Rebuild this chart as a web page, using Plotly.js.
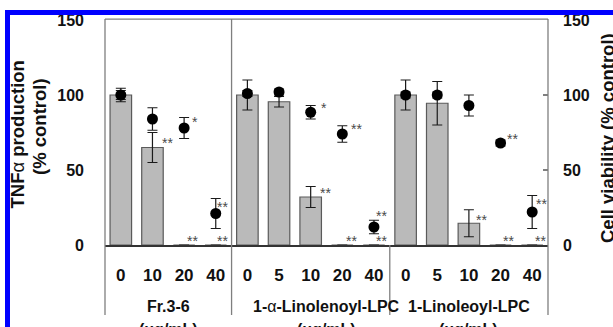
<!DOCTYPE html>
<html>
<head>
<meta charset="utf-8">
<script src="https://cdn.plot.ly/plotly-3.0.1.min.js"></script>
<style>
  html, body { margin: 0; padding: 0; background: #fff; }
  #wrap { position: relative; width: 613px; height: 327px; overflow: hidden; }
  #chart { position: absolute; left: 0; top: 0; width: 613px; height: 327px; }
  .frame { position: absolute; background: #0000ff; }
</style>
</head>
<body>
<div id="wrap">
  <div id="chart"></div>
  <div class="frame" style="left:5px; top:10px; width:608px; height:5px;"></div>
  <div class="frame" style="left:5px; top:10px; width:5px; height:317px;"></div>
</div>
<script>
// ---- data ----
const doseLabels = ['0','10','20','40','0','5','10','20','40','0','5','10','20','40'];
const groupNames = ['Fr.3-6', '1-<span style="font-weight:normal">α</span>-Linolenoyl-LPC', '1-Linoleoyl-LPC'];
const groupUnit = '(μg/mL)';
const groupCenters = [1.5, 6.5, 11];

// TNFα production (% control) – bars, left axis
const tnfValues = [100, 65, 0, 0, 100, 95.5, 32, 0, 0, 100, 94.5, 14.5, 0, 0];
const tnfErrors = [3, 10, null, null, 10, 3.5, 7, null, null, 10, 14.5, 9, null, null];

// Cell viability (% control) – dots, right axis
const viabilityValues = [100, 84, 78, 21, 101, 102, 88.5, 74, 12, 100, 100, 93, 68, 22];
const viabilityErrors = [4.5, 7.5, 7, 10, 2, 2, 4.5, 5.5, 4.5, 2, 2, 7, 2, 11];

// significance marks: category index, value level, label
const sigIndex = [1, 2, 3, 2, 3,  6, 7, 6, 8, 7, 8,  11, 12, 13, 12, 13];
const sigLevel = [69.3, 83.3, 27, 4.3, 4.3,  92.7, 78.9, 36, 20.7, 3.8, 3.8,  17.8, 72.2, 28.9, 4, 4];
const sigText  = ['**', '*', '**', '**', '**',  '*', '**', '**', '**', '**', '**',  '**', '**', '**', '**', '**'];
const sigOffset = [0.49, 0.35, 0.22, 0.25, 0.22,  0.42, 0.45, 0.48, 0.25, 0.3, 0.25,  0.4, 0.39, 0.3, 0.25, 0.25];

const idx = doseLabels.map((_, i) => i);
const FONT = 'Liberation Sans, Arial, Helvetica, sans-serif';

const bars = {
  type: 'bar',
  x: idx,
  y: tnfValues,
  width: 0.68,
  marker: { color: '#bababa', line: { color: '#5a5a5a', width: 1.2 } },
  error_y: { type: 'data', array: tnfErrors, visible: true, color: '#1a1a1a', thickness: 1.2, width: 5 },
  yaxis: 'y',
  hoverinfo: 'skip'
};

const dots = {
  type: 'scatter',
  mode: 'markers',
  x: idx,
  y: viabilityValues,
  marker: { color: '#000', size: 11 },
  error_y: { type: 'data', array: viabilityErrors, visible: true, color: '#1a1a1a', thickness: 1.2, width: 5 },
  yaxis: 'y2',
  hoverinfo: 'skip'
};

const annotations = [];
for (let i = 0; i < sigIndex.length; i++) {
  annotations.push({
    x: sigIndex[i] + sigOffset[i], y: sigLevel[i], xref: 'x', yref: 'y',
    text: sigText[i], showarrow: false, xanchor: 'center', yanchor: 'middle', yshift: -2,
    font: { family: FONT, size: 14, color: '#4a4a4a' }
  });
}
for (let g = 0; g < groupNames.length; g++) {
  annotations.push({
    x: groupCenters[g], y: (245 - 306) / 225, xref: 'x', yref: 'paper',
    text: groupNames[g], showarrow: false, xanchor: 'center', yanchor: 'middle',
    font: { family: FONT, size: 16, color: '#111', weight: 'bold' }
  });
  annotations.push({
    x: groupCenters[g], y: (245 - 329) / 225, xref: 'x', yref: 'paper',
    text: groupUnit, showarrow: false, xanchor: 'center', yanchor: 'middle',
    font: { family: FONT, size: 16, color: '#111', weight: 'bold' }
  });
}
// axis titles
const px = v => (v - 105) / 443;
const py = v => (245 - v) / 225;
annotations.push({
  x: px(16.5), y: py(135), xref: 'paper', yref: 'paper', textangle: -90,
  text: 'TNF<span style="font-weight:normal">α</span> production', showarrow: false,
  xanchor: 'center', yanchor: 'middle',
  font: { family: FONT, size: 18.5, color: '#111', weight: 'bold' }
});
annotations.push({
  x: px(40), y: py(127), xref: 'paper', yref: 'paper', textangle: -90,
  text: '(% control)', showarrow: false, xanchor: 'center', yanchor: 'middle',
  font: { family: FONT, size: 18.5, color: '#111', weight: 'bold' }
});
annotations.push({
  x: px(607), y: py(138), xref: 'paper', yref: 'paper', textangle: -90,
  text: 'Cell viability (% control)', showarrow: false, xanchor: 'center', yanchor: 'middle',
  font: { family: FONT, size: 18.5, color: '#111', weight: 'bold' }
});

const frameColor = '#7f7f7f';
const shapes = [
  { type: 'line', xref: 'paper', yref: 'paper', x0: 0, x1: 1, y0: 1.004, y1: 1.004, line: { color: frameColor, width: 1.3 } },
  { type: 'line', xref: 'paper', yref: 'paper', x0: 0, x1: 0, y0: 1.004, y1: py(315), line: { color: frameColor, width: 1.3 } },
  { type: 'line', xref: 'paper', yref: 'paper', x0: 1, x1: 1, y0: 1.004, y1: py(315), line: { color: frameColor, width: 1.3 } },
  { type: 'line', xref: 'x', yref: 'paper', x0: 3.5, x1: 3.5, y0: 1.004, y1: py(315), line: { color: frameColor, width: 1.3 } },
  { type: 'line', xref: 'x', yref: 'paper', x0: 8.5, x1: 8.5, y0: 0, y1: py(315), line: { color: frameColor, width: 1.3 } }
];

const layout = {
  width: 613, height: 327, autosize: false,
  margin: { l: 105, r: 65, t: 20, b: 82, pad: 0 },
  paper_bgcolor: '#fff', plot_bgcolor: '#fff',
  showlegend: false,
  font: { family: FONT, color: '#111' },
  xaxis: {
    range: [-0.5, 13.5], tickmode: 'array', tickvals: idx, ticktext: doseLabels,
    showgrid: false, zeroline: false, showline: true, linecolor: '#333', linewidth: 1.5,
    ticks: '', ticklabelstandoff: 14,
    tickfont: { family: FONT, size: 17, color: '#111', weight: 'bold' }
  },
  yaxis: {
    range: [0, 150], tickmode: 'array', tickvals: [0, 50, 100, 150],
    showgrid: false, zeroline: false, showline: false, ticks: '',
    ticklabelstandoff: 20,
    tickfont: { family: FONT, size: 16, color: '#111', weight: 'bold' }
  },
  yaxis2: {
    range: [0, 150], overlaying: 'y', side: 'right', tickmode: 'array', tickvals: [0, 50, 100, 150],
    showgrid: false, zeroline: false, showline: false,
    ticks: 'inside', ticklen: 5, tickcolor: frameColor, tickwidth: 1.2,
    ticklabelstandoff: 14,
    tickfont: { family: FONT, size: 16, color: '#111', weight: 'bold' }
  },
  shapes: shapes,
  annotations: annotations,
  bargap: 0.3
};

Plotly.newPlot('chart', [bars, dots], layout, { staticPlot: true, displayModeBar: false });
</script>
</body>
</html>
